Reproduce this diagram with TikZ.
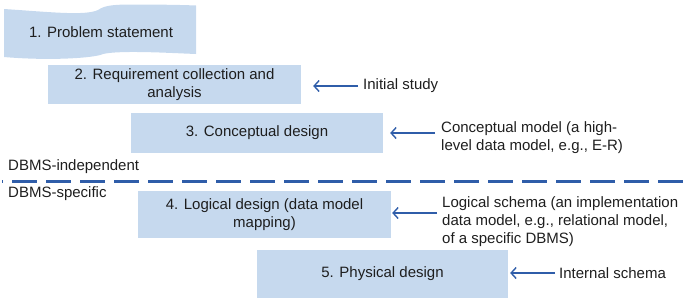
\documentclass[tikz,border=0pt]{standalone}
\usepackage{fontspec}
\setmainfont{Liberation Sans}
\usetikzlibrary{arrows.meta}
\definecolor{boxfill}{HTML}{C6D9EE}
\definecolor{lineblue}{HTML}{2F5DA9}
\definecolor{txt}{HTML}{1E1E1E}
\begin{document}
\begin{tikzpicture}[x=1pt,y=-1pt,
  every node/.style={font=\fontsize{15}{18}\selectfont, text=txt},
  stepbox/.style={fill=boxfill, draw=none, inner sep=0pt, align=center, anchor=center},
  lbl/.style={anchor=west, inner sep=0pt, align=left},
  arr/.style={draw=lineblue, line width=1.4pt, -{Straight Barb[length=5pt,width=11pt,line width=1.4pt]}}
]
\useasboundingbox (0,0) rectangle (685,301);
% banner
\fill[boxfill] (4,9) .. controls (50,12) and (85,16) .. (98,10)
  .. controls (105,5) and (115,4.5) .. (135,4.5)
  .. controls (160,4.5) and (185,5) .. (196,5.5)
  -- (196,54)
  .. controls (170,53) and (120,50) .. (103,54)
  .. controls (95,58) and (50,61) .. (4,57) -- cycle;
\node[inner sep=0pt] (s1) at (101,32) {1. Problem statement};
% boxes
\node[stepbox, minimum width=253pt, minimum height=39pt] (s2) at (174.5,84.5) {2. Requirement collection and\\analysis};
\node[stepbox, minimum width=252pt, minimum height=40pt] (s3) at (257,133) {3. Conceptual design};
\node[stepbox, minimum width=253pt, minimum height=47pt] (s4) at (264.5,214.5) {4. Logical design (data model\\mapping)};
\node[stepbox, minimum width=251pt, minimum height=48pt] (s5) at (382.5,274) {5. Physical design};
% labels
\node[lbl] (l1) at (363,86) {Initial study};
\node[lbl] (l2) at (441,137.5) {Conceptual model (a high-\\level data model, e.g., E-R)};
\node[lbl] (l3) at (442,222) {Logical schema (an implementation\\data model, e.g., relational model,\\of a specific DBMS)};
\node[lbl] (l4) at (559,273) {Internal schema};
% arrows
\coordinate (t1) at (358,86);
\coordinate (t2) at (435,133);
\coordinate (t3) at (437,213);
\coordinate (t4) at (555,273);
\draw[arr, shorten >=12pt] (t1) -- (t1 -| s2.east);
\draw[arr, shorten >=7pt] (t2) -- (t2 -| s3.east);
\draw[arr, shorten >=1pt] (t3) -- (t3 -| s4.east);
\draw[arr, shorten >=2pt] (t4) -- (t4 -| s5.east);
% divider
\node[lbl] (ind) at (8,167) {DBMS-independent};
\node[lbl] (spe) at (8,194) {DBMS-specific};
\coordinate (d0) at (2,181);
\coordinate (d1) at (685,181);
\draw[lineblue, line width=3pt, dash pattern=on 25pt off 9pt, dash phase=24pt] (d0) -- (d1);
\end{tikzpicture}
\end{document}
